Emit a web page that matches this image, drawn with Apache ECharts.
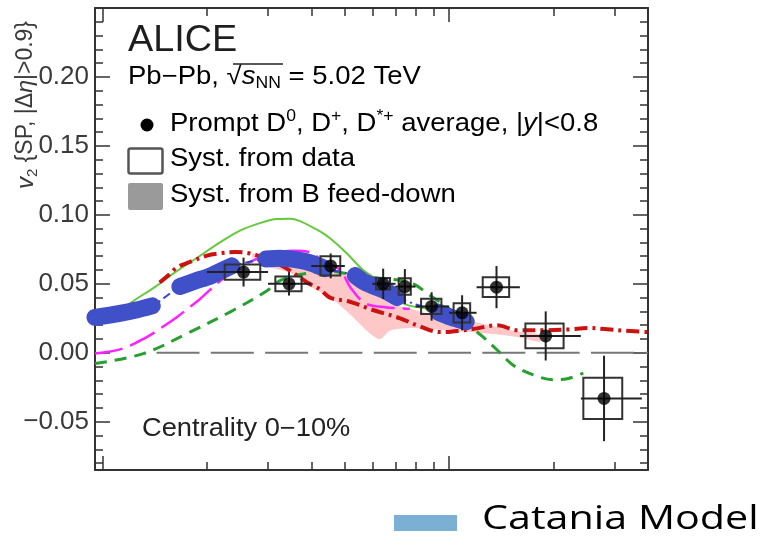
<!DOCTYPE html>
<html><head><meta charset="utf-8">
<script src="https://cdn.jsdelivr.net/npm/echarts@6/dist/echarts.min.js"></script>
<style>html,body{margin:0;padding:0;background:#fff}#c{width:761px;height:542px}</style>
</head><body><div id="c"></div>
<script>
// ---------- data ----------
const pT      = [2.55, 3.45, 4.55, 6.45, 7.45, 8.9, 10.9, 13.7, 19, 28];
const binLo   = [2, 3, 4, 6, 7, 8, 10, 12, 16, 24];
const binHi   = [3, 4, 5, 7, 8, 10, 12, 16, 24, 36];
const v2      = [0.0585, 0.050, 0.063, 0.050, 0.048, 0.0336, 0.029, 0.0476, 0.0122, -0.0331];
const statErr = [0.0105, 0.0085, 0.009, 0.011, 0.0127, 0.0103, 0.0127, 0.0153, 0.0178, 0.031];
const systErr = [0.0055, 0.0053, 0.007, 0.0042, 0.006, 0.0055, 0.007, 0.0072, 0.009, 0.015];

const greenSolidPt = [0.95, 1.12, 1.25, 1.42, 1.59, 1.85, 2.18, 2.49, 2.84, 3.18, 3.47, 3.71, 4.24, 4.53, 5.07, 5.64, 6.03, 6.53, 7.22, 7.71, 8.81, 10.55, 11.5];
const greenSolidV  = [0.024, 0.031, 0.039, 0.048, 0.057, 0.068, 0.080, 0.0886, 0.094, 0.097, 0.0972, 0.0955, 0.088, 0.083, 0.072, 0.060, 0.055, 0.046, 0.037, 0.034, 0.032, 0.0295, 0.027];

const greenDashPt = [0.95, 1.31, 1.75, 2.38, 2.98, 3.18, 3.47, 4.0, 4.53, 5.17, 6.32, 7.71, 8.81, 9.87, 11.12, 12.45, 13.76, 15.31, 17.49, 19.98, 21.93, 24.39];
const greenDashV  = [-0.0078, -0.0006, 0.0139, 0.0308, 0.045, 0.051, 0.055, 0.058, 0.059, 0.057, 0.054, 0.051, 0.0416, 0.033, 0.022, 0.012, 0.002, -0.009, -0.016, -0.0195, -0.0188, -0.0148];

const magentaPt = [0.95, 1.14, 1.34, 1.44, 1.64, 1.78, 1.91, 2.18, 2.49, 2.84, 3.18, 3.54, 3.97, 4.24, 4.84, 5.2, 5.72, 6.53, 7.7];
const magentaV  = [-0.0006, 0.003, 0.0114, 0.0163, 0.026, 0.033, 0.039, 0.052, 0.062, 0.069, 0.0725, 0.074, 0.073, 0.068, 0.060, 0.047, 0.036, 0.033, 0.032];

const redPt = [1.46, 1.56, 1.64, 1.78, 2.00, 2.15, 2.41, 2.66, 3.04, 3.40, 3.89, 4.24, 4.53, 5.17, 6.03, 7.22, 8.25, 9.42, 10.76, 11.89, 13.76, 15.72, 19.2, 22.37, 25.05, 28.62, 32.27, 37.5];
const redV  = [0.051, 0.057, 0.062, 0.0657, 0.0705, 0.072, 0.073, 0.072, 0.067, 0.061, 0.051, 0.046, 0.040, 0.037, 0.031, 0.025, 0.019, 0.015, 0.016, 0.0175, 0.020, 0.0163, 0.0163, 0.017, 0.018, 0.017, 0.016, 0.015];

const bandPt = [2.71, 3.04, 3.47, 3.97, 4.53, 5.17, 5.91, 6.32, 6.75, 7.71, 8.81, 10.07, 11.5, 14.04, 16.04, 18.32];
const bandLo = [0.069, 0.062, 0.058, 0.048, 0.040, 0.028, 0.014, 0.010, 0.016, 0.018, 0.017, 0.016, 0.015, 0.013, 0.011, 0.008];
const bandHi = [0.072, 0.072, 0.071, 0.068, 0.062, 0.055, 0.045, 0.040, 0.036, 0.032, 0.028, 0.025, 0.023, 0.018, 0.015, 0.013];

const cataniaPt = [0.95, 1.12, 1.25, 1.39, 1.5, 1.67, 1.85, 2.04, 2.18, 2.36, 2.6, 2.96, 3.25, 3.71, 4.0, 4.38, 4.9, 5.36, 5.72, 6.53, 7.08, 8.1, 9.3, 10.07, 11.2];
const cataniaV  = [0.0257, 0.0286, 0.031, 0.034, null, 0.048, 0.052, 0.0555, 0.059, 0.063, null, 0.068, 0.0685, 0.067, 0.065, 0.061, null, 0.056, 0.051, 0.045, 0.040, null, 0.0295, 0.026, 0.0225];

const zeroLinePt = [1.43, 37.5];
const zeroLineV  = [0, 0];

const yMajorTicks = [-0.05, 0, 0.05, 0.10, 0.15, 0.20];
const yMinorTicks = [-0.08, -0.07, -0.06, -0.04, -0.03, -0.02, -0.01, 0.01, 0.02, 0.03, 0.04, 0.06, 0.07, 0.08, 0.09, 0.11, 0.12, 0.13, 0.14, 0.16, 0.17, 0.18, 0.19, 0.21, 0.22, 0.23, 0.24];
const xMajorTicks = [1, 10];
const xMinorTicks = [2, 3, 4, 5, 6, 7, 8, 9, 20, 30];

// ---------- chart ----------
const FONT = 'Liberation Sans';
const AX = '#333';
const X_MIN = 0.95, X_MAX = 37.5, Y_MIN = -0.085, Y_MAX = 0.25;
const pairs = (xs, ys) => xs.map((x, i) => [x, ys[i]]);

function xAx(pos, ticks, len, showLine) {
  return { type: 'log', logBase: 10, min: X_MIN, max: X_MAX, position: pos,
    axisLine: { show: showLine, onZero: false, lineStyle: { color: AX, width: 2 } },
    axisTick: { show: true, inside: true, length: len, customValues: ticks, lineStyle: { color: AX, width: 1.5 } },
    axisLabel: { show: false }, splitLine: { show: false }, minorTick: { show: false } };
}
function yAx(pos, ticks, len, showLine, labels) {
  return { type: 'value', min: Y_MIN, max: Y_MAX, position: pos,
    axisLine: { show: showLine, onZero: false, lineStyle: { color: AX, width: 2 } },
    axisTick: { show: true, inside: true, length: len, customValues: ticks, lineStyle: { color: AX, width: 1.5 } },
    axisLabel: labels ? { show: true, customValues: yMajorTicks, margin: 6, fontSize: 26, fontFamily: FONT, color: '#3a3a3a',
      formatter: v => (v < 0 ? '\u2212' : '') + Math.abs(v).toFixed(2) } : { show: false },
    splitLine: { show: false } };
}

const chart = echarts.init(document.getElementById('c'), null, { renderer: 'canvas' });
const rich = {
  b: { fontSize: 25, fontFamily: FONT, color: '#222', lineHeight: 30 },
  i: { fontSize: 25, fontFamily: FONT, fontStyle: 'italic', color: '#222', lineHeight: 30 },
  sup: { fontSize: 16, fontFamily: FONT, color: '#222', lineHeight: 15, verticalAlign: 'top' },
  sub: { fontSize: 16, fontFamily: FONT, color: '#222', lineHeight: 15, verticalAlign: 'bottom' }
};
const SX = 1.1;

chart.setOption({
  animation: false,
  backgroundColor: '#fff',
  grid: { left: 95, right: 113, top: 8, bottom: 72, containLabel: false },
  xAxis: [ xAx('bottom', xMajorTicks, 14, true), xAx('bottom', xMinorTicks, 8, false),
           xAx('top', xMajorTicks, 14, true), xAx('top', xMinorTicks, 8, false) ],
  yAxis: [ yAx('left', yMajorTicks, 15, true, true), yAx('left', yMinorTicks, 8, false, false),
           yAx('right', yMajorTicks, 15, true, false), yAx('right', yMinorTicks, 8, false, false) ],
  graphic: [
    { type: 'text', x: 128, y: 41, scaleX: 1.05, style: { text: 'ALICE', fontSize: 36, fontFamily: FONT, fill: '#1e1e1e', verticalAlign: 'middle' } },
    { type: 'text', x: 128, y: 77, scaleX: SX, style: { text: '{b|Pb\u2212Pb, \u221A}{i|s}{sub|NN}{b| = 5.02 TeV}', rich: rich, verticalAlign: 'middle' } },
    { type: 'line', shape: { x1: 233, y1: 64, x2: 283, y2: 64 }, style: { stroke: '#222', lineWidth: 1.6 } },
    { type: 'circle', shape: { cx: 147, cy: 125, r: 6.5 }, style: { fill: '#000' } },
    { type: 'text', x: 170, y: 124, scaleX: SX, style: { text: '{b|Prompt D}{sup|0}{b|, D}{sup|+}{b|, D}{sup|*+}{b| average, |}{i|y}{b||<0.8}', rich: rich, verticalAlign: 'middle' } },
    { type: 'rect', shape: { x: 128.5, y: 148.5, width: 34, height: 25, r: 2 }, style: { fill: '#fff', stroke: '#555', lineWidth: 2.5 } },
    { type: 'text', x: 170, y: 159, scaleX: SX, style: { text: '{b|Syst. from data}', rich: rich, verticalAlign: 'middle' } },
    { type: 'rect', shape: { x: 128, y: 183, width: 35, height: 27, r: 2 }, style: { fill: '#9a9a9a' } },
    { type: 'text', x: 170, y: 195, scaleX: SX, style: { text: '{b|Syst. from B feed-down}', rich: rich, verticalAlign: 'middle' } },
    { type: 'text', x: 142, y: 429, scaleX: 1.09, style: { text: 'Centrality 0\u221210%', fontSize: 25, fontFamily: FONT, fill: '#222', verticalAlign: 'middle' } },
    { type: 'text', x: 26, y: 105, rotation: Math.PI / 2,
      style: { text: '{iv|v}{s2|2}{n| {SP, |\u0394}{ie|\u03B7}{n||>0.9}}', align: 'center', verticalAlign: 'middle',
        fontSize: 23, fontFamily: FONT, fill: '#3a3a3a',
        rich: { iv: { fontSize: 24, fontStyle: 'italic', fontFamily: FONT, color: '#3a3a3a', lineHeight: 28 },
                s2: { fontSize: 15, fontFamily: FONT, color: '#3a3a3a', lineHeight: 14, verticalAlign: 'bottom' },
                n: { fontSize: 23, fontFamily: FONT, color: '#3a3a3a', lineHeight: 28 },
                ie: { fontSize: 23, fontStyle: 'italic', fontFamily: FONT, color: '#3a3a3a', lineHeight: 28 } } } },
    { type: 'rect', shape: { x: 394, y: 515, width: 63, height: 16 }, style: { fill: '#7bafd4' } },
    { type: 'text', x: 482, y: 520, scaleX: 1.25, style: { text: 'Catania Model', fontSize: 33, fontFamily: 'Open Sans', fill: '#000', verticalAlign: 'middle' } }
  ],
  series: [
    { type: 'custom', name: 'band', xAxisIndex: 0, yAxisIndex: 0, z: 2, data: [0], silent: true,
      renderItem: (params, api) => {
        const up = bandPt.map((p, i) => api.coord([p, bandHi[i]]));
        const dn = bandPt.map((p, i) => api.coord([p, bandLo[i]])).reverse();
        return { type: 'polygon', shape: { points: up.concat(dn), smooth: 0.3 }, style: { fill: 'rgba(255,110,110,0.38)', stroke: 'none' } };
      } },
    { type: 'line', name: 'zero', data: pairs(zeroLinePt, zeroLineV), symbol: 'none', z: 2,
      lineStyle: { color: '#777', width: 2, type: [43, 11.3] } },
    { type: 'line', name: 'greenSolid', data: pairs(greenSolidPt, greenSolidV), symbol: 'none', smooth: 0.35, z: 3,
      lineStyle: { color: '#66c83c', width: 2 } },
    { type: 'line', name: 'greenDash', data: pairs(greenDashPt, greenDashV), symbol: 'none', smooth: 0.35, z: 3,
      lineStyle: { color: '#26a02e', width: 3, type: [12, 8] } },
    { type: 'line', name: 'magenta', data: pairs(magentaPt, magentaV), symbol: 'none', smooth: 0.35, z: 3,
      lineStyle: { color: '#ff22ff', width: 2.5, type: [28, 8] } },
    { type: 'line', name: 'red', data: pairs(redPt, redV), symbol: 'none', smooth: 0.35, z: 3,
      lineStyle: { color: '#cc1111', width: 4, type: [13, 5, 3, 5] } },
    { type: 'line', name: 'cataniaThin', data: pairs(cataniaPt, cataniaV), connectNulls: true, symbol: 'none', smooth: 0.3, z: 4,
      lineStyle: { color: '#3344dd', width: 2, type: [8, 4, 2, 4] } },
    { type: 'line', name: 'Catania Model', data: pairs(cataniaPt, cataniaV), connectNulls: false, symbol: 'none', smooth: 0.3, z: 4,
      lineStyle: { color: '#4050c8', width: 17, cap: 'round', join: 'round' } },
    { type: 'custom', name: 'errors', z: 6,
      data: pT.map((p, i) => [p, v2[i], statErr[i], systErr[i], binLo[i], binHi[i]]),
      renderItem: (params, api) => {
        const x = api.value(0), y = api.value(1), st = api.value(2), sy = api.value(3), lo = api.value(4), hi = api.value(5);
        const bw = 0.3 * (hi - lo);
        const c = api.coord([x, y]);
        const t = api.coord([x, y + st]), b = api.coord([x, y - st]);
        const l = api.coord([lo, y]), r = api.coord([hi, y]);
        const b1 = api.coord([x - bw, y + sy]), b2 = api.coord([x + bw, y - sy]);
        return { type: 'group', children: [
          { type: 'rect', shape: { x: b1[0], y: b1[1], width: b2[0] - b1[0], height: b2[1] - b1[1] }, style: { fill: 'none', stroke: '#333', lineWidth: 2 } },
          { type: 'line', shape: { x1: c[0], y1: t[1], x2: c[0], y2: b[1] }, style: { stroke: '#222', lineWidth: 2 } },
          { type: 'line', shape: { x1: l[0], y1: c[1], x2: r[0], y2: c[1] }, style: { stroke: '#222', lineWidth: 2 } }
        ] };
      } },
    { type: 'scatter', name: 'data', data: pairs(pT, v2), symbol: 'circle', symbolSize: 13, z: 7,
      itemStyle: { color: '#000' } }
  ]
});
</script></body></html>
